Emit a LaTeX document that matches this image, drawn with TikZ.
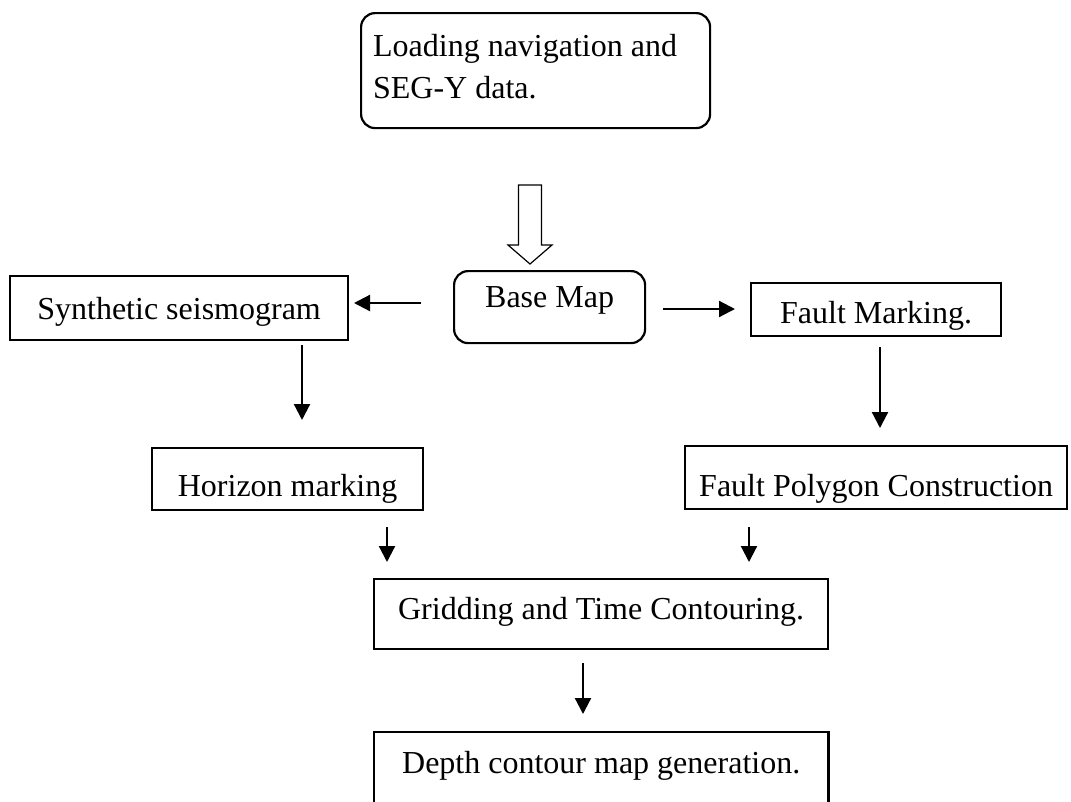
\documentclass[tikz,border=0pt]{standalone}
\usepackage{fontspec}
\setmainfont{Liberation Serif}
\usetikzlibrary{arrows.meta}
\begin{document}
\begin{tikzpicture}[x=1pt,y=-1pt,
  txt/.style={font=\fontsize{32}{42}\selectfont},
  box/.style={txt, draw, line width=2.2pt, inner sep=0pt, anchor=north west},
  rbox/.style={box, rounded corners=14pt},
  arr/.style={line width=2.2pt, -{Triangle[length=16pt,width=16pt]}},
  hollow/.style={draw, line width=1.2pt, fill=white, line join=miter}]
\useasboundingbox (0,0) rectangle (1071,801);

% boxes (text height / depth place each baseline inside its frame)
\node[rbox, minimum width=349pt, inner xsep=12pt, anchor=north west] (load) at (360,12)
  {\raisebox{0pt}[43pt][72pt]{\parbox[t]{325pt}{\raggedright
     Loading navigation and\\SEG-Y data.}}};
\node[rbox, minimum width=191pt, text height=36pt, text depth=36pt] (base) at (453,270) {Base Map};
\node[box, minimum width=338pt, text height=43pt, text depth=21pt] (syn) at (9,275) {Synthetic seismogram};
\node[box, minimum width=250pt, text height=40pt, text depth=13pt] (fault) at (750,282) {Fault Marking.};
\node[box, minimum width=271pt, text height=48pt, text depth=14pt] (hor) at (151,447) {Horizon marking};
\node[box, minimum width=382pt, text height=50pt, text depth=13pt] (poly) at (684,445) {Fault Polygon Construction};
\node[box, minimum width=454pt, text height=40pt, text depth=30pt] (grid) at (373,578) {Gridding and Time Contouring.};
\node[txt, inner sep=0pt, anchor=north west, minimum width=454pt,
      text height=41pt, text depth=40pt] (depth) at (374,732) {Depth contour map generation.};
\draw[line width=2.2pt] (depth.south west) -- (depth.north west)
  -- (depth.north east) -- (depth.south east);

% hollow arrow from the loading step down to the base map
\coordinate (h) at (530,185);
\draw[hollow] (h) ++(-11.5,0) -- ++(23,0) -- ++(0,60) -- ++(10.5,0)
  -- ++(-22,19) -- ++(-22,-19) -- ++(10.5,0) -- cycle;

% connectors
\coordinate (a1) at (421,303); \coordinate (a1e) at (354,303);
\draw[arr] (a1) -- (a1e);
\coordinate (a2) at (663,309); \coordinate (a2e) at (735,309);
\draw[arr] (a2) -- (a2e);
\coordinate (b1) at (302,345); \coordinate (b1e) at (302,420);
\draw[arr] (b1) -- (b1e);
\coordinate (b2) at (880,347); \coordinate (b2e) at (880,428);
\draw[arr] (b2) -- (b2e);
\coordinate (c1) at (387,527); \coordinate (c1e) at (387,562);
\draw[arr] (c1) -- (c1e);
\coordinate (c2) at (749,527); \coordinate (c2e) at (749,562);
\draw[arr] (c2) -- (c2e);
\coordinate (d1) at (583,663); \coordinate (d1e) at (583,714);
\draw[arr] (d1) -- (d1e);
\end{tikzpicture}
\end{document}
